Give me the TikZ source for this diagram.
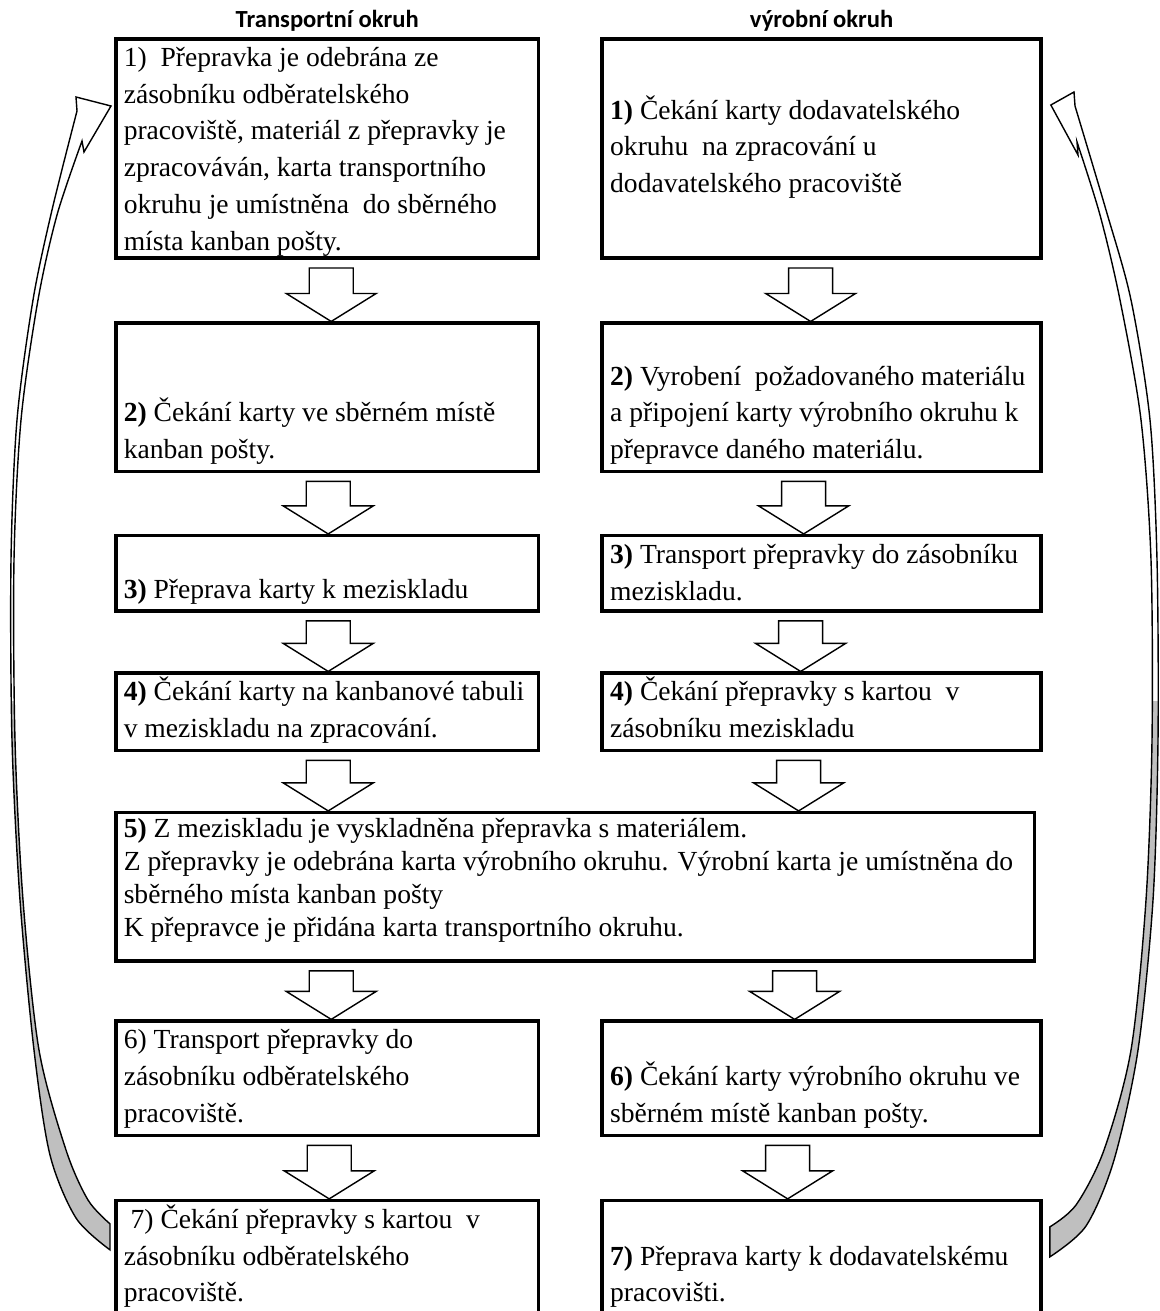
\documentclass[tikz,border=0pt]{standalone}
\usepackage{fontspec}
\setmainfont{Liberation Serif}
\newfontfamily\headfont{Carlito}
\usetikzlibrary{positioning, calc}

\newcommand{\stepfont}{\fontsize{15.7}{20.9}\selectfont}
% text block of fixed height #1, alignment #2 (t, c, b), width #3
\newcommand{\steptext}[4]{\vbox to #1{\if t#2\else\vss\fi
  \hbox to #3{\begin{tabular}[#2]{@{}l@{}}#4\end{tabular}\hss}%
  \if b#2\kern0pt\else\vss\fi}}

% block arrow between two boxes, x taken from #3
\newcommand{\flowdown}[3]{%
  \draw[flowarrow] let \p1=(#1.south), \p2=(#2.north), \p3=(#3) in
    (\x3-0.44cm,\y1-0.16cm) -- (\x3+0.44cm,\y1-0.16cm) -- (\x3+0.44cm,\y2+0.56cm)
    -- (\x3+0.9cm,\y2+0.56cm) -- (\x3,\y2) -- (\x3-0.9cm,\y2+0.56cm)
    -- (\x3-0.44cm,\y2+0.56cm) -- cycle;}

% curved return arrows
\newcommand{\ribbonleft}{(77,111) -- (76,97) -- (lhead) -- (84,152) -- (82,141)
  -- plot[smooth] coordinates {(82,141) (57,215) (38,300) (21,420) (14,560) (15,740) (23,900) (39,1050) (66,1150) (88,1200) (ltaili)}
  -- (ltailo)
  -- plot[smooth] coordinates {(ltailo) (76,1218) (50,1155) (34,1050) (20,900) (12,740) (11,560) (17,420) (33,300) (52,210) (77,111)} -- cycle}
\newcommand{\ribbonright}{(1075,106) -- (1074,92) -- (rhead) -- (1078,155) -- (1077,142)
  -- plot[smooth] coordinates {(1077,142) (1100,215) (1120,300) (1141,420) (1151,560) (1152,740) (1146,900) (1131,1050) (1104,1150) (1076,1205) (rtaili)}
  -- (rtailo)
  -- plot[smooth] coordinates {(rtailo) (1086,1226) (1114,1160) (1138,1050) (1153,900) (1158,740) (1157,560) (1150,420) (1131,300) (1106,210) (1075,106)} -- cycle}

\begin{document}
\begin{tikzpicture}[
    x=0.02cm, y=-0.02cm,
    stepbox/.style={draw, line width=2pt, inner sep=0pt, font=\stepfont},
    lbox/.style={stepbox, minimum width=8.46cm},
    rbox/.style={stepbox, minimum width=8.78cm},
    head/.style={font=\headfont\bfseries\fontsize{14}{16}\selectfont, inner sep=0pt},
    flowarrow/.style={draw, fill=white, line width=0.8pt, line join=miter},
    ribbonline/.style={draw, line width=0.8pt, line join=miter}
]
    \useasboundingbox (0,0) rectangle (1159,1311);

    % Transportni okruh
    \node[lbox, minimum height=4.39cm, anchor=north west] (l1) at (114,37)
      {\steptext{4.31cm}{t}{8.14cm}{1)\ \ Přepravka je odebrána ze\\ zásobníku odběratelského\\ pracoviště, materiál z přepravky je\\ zpracováván, karta transportního\\ okruhu je umístněna\ \ do sběrného\\ místa kanban pošty.}};
    \node[lbox, minimum height=2.97cm, below=1.23cm of l1] (l2)
      {\steptext{2.89cm}{b}{8.14cm}{\textbf{2)} Čekání karty ve sběrném místě\\ kanban pošty.}};
    \node[lbox, minimum height=1.51cm, below=1.21cm of l2] (l3)
      {\steptext{1.43cm}{b}{8.14cm}{\textbf{3)} Přeprava karty k meziskladu}};
    \node[lbox, minimum height=1.55cm, below=1.17cm of l3] (l4)
      {\steptext{1.47cm}{t}{8.14cm}{\textbf{4)} Čekání karty na kanbanové tabuli\\ v meziskladu na zpracování.}};

    % Spolecny krok
    \node[stepbox, minimum width=18.38cm, minimum height=2.97cm, below=1.17cm of l4.south west, anchor=north west] (c5)
      {\fontsize{15.7}{18.8}\selectfont\steptext{2.89cm}{t}{18.06cm}{\textbf{5)} Z meziskladu je vyskladněna přepravka s materiálem.\\ Z přepravky je odebrána karta výrobního okruhu. Výrobní karta je umístněna do\\ sběrného místa kanban pošty\\ K přepravce je přidána karta transportního okruhu.}};

    \node[lbox, minimum height=2.29cm, below=1.13cm of c5.south west, anchor=north west] (l6)
      {\steptext{2.21cm}{t}{8.14cm}{6) Transport přepravky do\\ zásobníku odběratelského\\ pracoviště.}};
    \node[lbox, minimum height=2.8cm, below=1.23cm of l6] (l7)
      {\steptext{2.72cm}{t}{8.14cm}{\ 7) Čekání přepravky s kartou\ \ v\\ zásobníku odběratelského\\ pracoviště.}};

    % Vyrobni okruh
    \node[rbox, minimum height=4.39cm, right=1.2cm of l1] (r1)
      {\steptext{4.31cm}{c}{8.46cm}{\textbf{1)} Čekání karty dodavatelského\\ okruhu\ \ na zpracování u\\ dodavatelského pracoviště}};
    \node[rbox, minimum height=2.97cm, right=1.2cm of l2] (r2)
      {\steptext{2.89cm}{b}{8.46cm}{\textbf{2)} Vyrobení\ \ požadovaného materiálu\\ a připojení karty výrobního okruhu k\\ přepravce daného materiálu.}};
    \node[rbox, minimum height=1.51cm, right=1.2cm of l3] (r3)
      {\steptext{1.43cm}{t}{8.46cm}{\textbf{3)} Transport přepravky do zásobníku\\ meziskladu.}};
    \node[rbox, minimum height=1.55cm, right=1.2cm of l4] (r4)
      {\steptext{1.47cm}{t}{8.46cm}{\textbf{4)} Čekání přepravky s kartou\ \ v\\ zásobníku meziskladu}};
    \node[rbox, minimum height=2.29cm, right=1.2cm of l6] (r6)
      {\steptext{2.21cm}{b}{8.46cm}{\textbf{6)} Čekání karty výrobního okruhu ve\\ sběrném místě kanban pošty.}};
    \node[rbox, minimum height=2.8cm, right=1.2cm of l7] (r7)
      {\steptext{2.72cm}{t}{8.46cm}{\\ \textbf{7)} Přeprava karty k dodavatelskému\\ pracovišti.}};

    % Headings
    \node[head, above=0.1cm of l1] (hl) {Transportní okruh};
    \node[head, above=0.1cm of r1] (hr) {výrobní okruh};

    % Block arrows
    \flowdown{l1}{l2}{$(l1)+(4,0)$}
    \flowdown{l2}{l3}{$(l2)+(1,0)$}
    \flowdown{l3}{l4}{$(l3)+(1,0)$}
    \flowdown{l4}{c5}{$(l4)+(1,0)$}
    \flowdown{c5}{l6}{$(l6)+(4,0)$}
    \flowdown{l6}{l7}{$(l6)+(2,0)$}
    \flowdown{r1}{r2}{$(r1)+(-11,0)$}
    \flowdown{r2}{r3}{$(r2)+(-18,0)$}
    \flowdown{r3}{r4}{$(r3)+(-21,0)$}
    \flowdown{r4}{c5}{$(r4)+(-23,0)$}
    \flowdown{c5}{r6}{$(r6)+(-27,0)$}
    \flowdown{r6}{r7}{$(r6)+(-34,0)$}

    % Return arrows
    \coordinate (lhead) at ($(l1.north west)+(-3,69)$);
    \coordinate (ltaili) at ($(l7.north west)+(-4,25)$);
    \coordinate (ltailo) at ($(l7.north west)+(-4,51)$);
    \coordinate (rhead) at ($(r1.north east)+(8,68)$);
    \coordinate (rtaili) at ($(r7.north east)+(7,28)$);
    \coordinate (rtailo) at ($(r7.north east)+(7,58)$);

    \fill[black!25] \ribbonleft;
    \fill[black!25] \ribbonright;
    \begin{scope}
      \clip (0,0) rectangle (1159,700);
      \fill[white] \ribbonleft;
      \fill[white] \ribbonright;
    \end{scope}
    \draw[ribbonline] \ribbonleft;
    \draw[ribbonline] \ribbonright;
\end{tikzpicture}
\end{document}
